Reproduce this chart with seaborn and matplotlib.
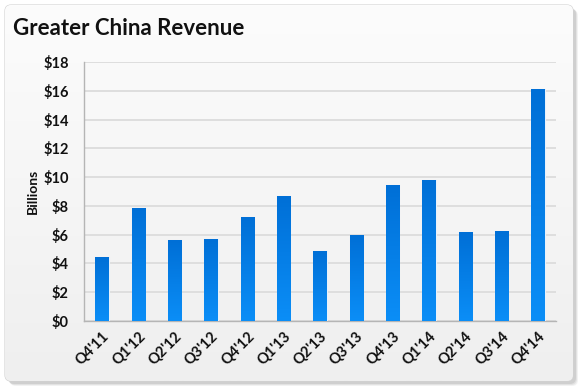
import matplotlib
matplotlib.use("Agg")
import matplotlib.pyplot as plt
import seaborn as sns
import numpy as np
import pandas as pd
from matplotlib.patches import FancyBboxPatch
from matplotlib.ticker import MultipleLocator, FuncFormatter

quarters = ["Q4'11", "Q1'12", "Q2'12", "Q3'12", "Q4'12", "Q1'13", "Q2'13",
            "Q3'13", "Q4'13", "Q1'14", "Q2'14", "Q3'14", "Q4'14"]
revenue = [4.46, 7.86, 5.62, 5.68, 7.20, 8.72, 4.88, 6.00, 9.46, 9.78, 6.17, 6.24, 16.12]
title_text = "Greater China Revenue"
y_label = "Billions"

sns.set_theme(style="white")
plt.rcParams['font.family'] = ['Lato', 'DejaVu Sans']

fig = plt.figure(figsize=(5.8, 3.9), dpi=100)
fig.patch.set_facecolor("white")

# background panel with rounded corners and soft shadow
bg = fig.add_axes([0, 0, 1, 1], zorder=-5)
bg.set_xlim(0, 580)
bg.set_ylim(390, 0)
bg.axis("off")
for off, a in [(5, 0.12), (4, 0.18), (3, 0.25)]:
    sh = FancyBboxPatch((5 + off, 5 + off), 568, 376, boxstyle="round,pad=0,rounding_size=6",
                        facecolor="#9a9a9a", edgecolor="none", alpha=a)
    bg.add_patch(sh)
panel = FancyBboxPatch((5, 5), 568, 376, boxstyle="round,pad=0,rounding_size=6",
                       facecolor="#f5f5f5", edgecolor="#d2d2d2", linewidth=0.8)
bg.add_patch(panel)
grad = np.linspace(0, 1, 256).reshape(-1, 1)
im = bg.imshow(grad, extent=[5, 573, 381, 5], cmap=matplotlib.colors.LinearSegmentedColormap.from_list(
    "bgg", ["#fcfcfc", "#efefef"]), aspect="auto", zorder=1)
im.set_clip_path(panel)

ax = fig.add_axes([0.1448, 0.177, 0.8138, 0.664])
ax.set_facecolor("none")
df = pd.DataFrame({"quarter": quarters, "revenue": revenue})
sns.barplot(data=df, x="quarter", y="revenue", color="#0a7ee8", width=0.37,
            edgecolor="#e8f2fc", linewidth=0.8, ax=ax, zorder=3)

# vertical gradient on each bar
cmap = matplotlib.colors.LinearSegmentedColormap.from_list("bar", ["#0b8ef7", "#006fd6"])
for p in list(ax.patches):
    x0, y0 = p.get_x(), p.get_y()
    w, h = p.get_width(), p.get_height()
    img = ax.imshow(np.linspace(0, 1, 256).reshape(-1, 1), extent=[x0, x0 + w, y0, y0 + h],
                    origin="lower", cmap=cmap, aspect="auto", zorder=3.5)
    img.set_clip_path(p)
ax.set_xlim(-0.5, len(quarters) - 0.5)
ax.set_ylim(0, 18)
ax.yaxis.set_major_locator(MultipleLocator(2))
ax.yaxis.set_major_formatter(FuncFormatter(lambda v, _: f"${v:.0f}"))
ax.grid(axis="y", color="#dcdcdc", linewidth=1.3, zorder=0)
ax.set_axisbelow(True)
for s in ["top", "right"]:
    ax.spines[s].set_visible(False)
for s in ["left", "bottom"]:
    ax.spines[s].set_color("#b5b5b5")
    ax.spines[s].set_linewidth(1.0)
ax.tick_params(axis="y", length=0, pad=11)
ax.tick_params(axis="x", length=0, pad=6)
for lab in ax.get_yticklabels():
    lab.set_fontweight("bold")
    lab.set_fontsize(10.5)
    lab.set_color("#111111")
ax.set_xticks(range(len(quarters)))
ax.set_xticklabels(quarters, rotation=45, ha="right", rotation_mode="anchor",
                   fontweight="bold", fontsize=10.5, color="#111111")
ax.set_xlabel("")
ax.set_ylabel(y_label, fontweight="bold", fontsize=10, labelpad=3, color="#111111")
fig.text(0.022, 0.928, title_text, fontsize=16, fontweight="bold", ha="left", va="center",
         color="#111111")

fig.savefig("out.png", dpi=100)
